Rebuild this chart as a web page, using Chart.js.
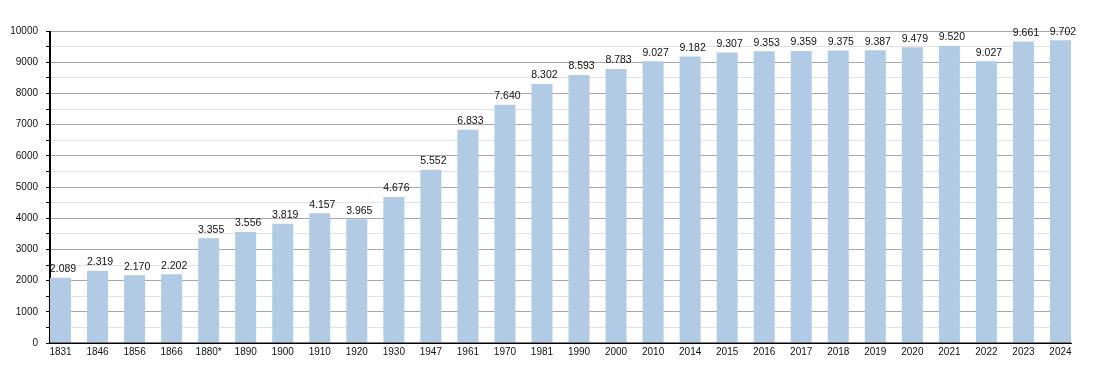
<!DOCTYPE html>
<html>
<head>
<meta charset="utf-8">
<script src="https://cdn.jsdelivr.net/npm/chart.js@4/dist/chart.umd.min.js"></script>
<style>
  html, body { margin: 0; padding: 0; background: #fff; }
  #wrap { width: 1100px; height: 373px; }
</style>
</head>
<body>
<div id="wrap"><canvas id="c" width="1100" height="373"></canvas></div>
<script>
const years = ["1831","1846","1856","1866","1880*","1890","1900","1910","1920","1930","1947","1961","1970","1981","1990","2000","2010","2014","2015","2016","2017","2018","2019","2020","2021","2022","2023","2024"];
const population = [2089,2319,2170,2202,3355,3556,3819,4157,3965,4676,5552,6833,7640,8302,8593,8783,9027,9182,9307,9353,9359,9375,9387,9479,9520,9027,9661,9702];
const yTicksMajor = [0,1000,2000,3000,4000,5000,6000,7000,8000,9000,10000];

const FONT = "'Liberation Sans', Arial, sans-serif";

function fmt(v) {
  return String(v).replace(/\B(?=(\d{3})+(?!\d))/g, ".");
}

const valueLabels = {
  id: 'valueLabels',
  afterDatasetsDraw(chart) {
    const ctx = chart.ctx;
    const area = chart.chartArea;
    // axis lines on top of bars
    ctx.save();
    ctx.strokeStyle = '#000';
    ctx.lineWidth = 1;
    ctx.beginPath();
    ctx.moveTo(Math.round(area.left) - 0.5, area.top);
    ctx.lineTo(Math.round(area.left) - 0.5, Math.round(area.bottom));
    ctx.lineTo(area.right, Math.round(area.bottom));
    ctx.stroke();
    ctx.restore();

    const meta = chart.getDatasetMeta(0);
    ctx.save();
    ctx.font = "10.5px " + FONT;
    ctx.fillStyle = "#111";
    ctx.textAlign = "center";
    ctx.textBaseline = "middle";
    meta.data.forEach((bar, i) => {
      ctx.fillText(fmt(population[i]), bar.x + 2.5, bar.y - 8.5);
    });
    ctx.restore();
  }
};

const half = 10.5 / 37;

new Chart(document.getElementById('c'), {
  type: 'bar',
  data: {
    datasets: [{
      data: population.map((v, i) => ({ x: i, y: v })),
      backgroundColor: '#b2cbe4',
      borderWidth: 0,
      categoryPercentage: 1,
      barPercentage: 21 / 37
    }]
  },
  options: {
    responsive: false,
    animation: false,
    devicePixelRatio: 1,
    layout: { padding: { left: 0, right: 29, top: 31, bottom: 0 } },
    plugins: { legend: { display: false }, tooltip: { enabled: false } },
    scales: {
      x: {
        type: 'linear',
        offset: false,
        min: -half,
        max: 27 + half,
        afterFit(s) { s.height = 30; },
        grid: { display: false, offset: false, drawTicks: false },
        border: { display: true, color: '#000', width: 1 },
        ticks: {
          stepSize: 1,
          autoSkip: false,
          includeBounds: false,
          maxRotation: 0,
          padding: 3,
          color: '#111',
          font: { family: FONT, size: 10 },
          callback: (v) => (Number.isInteger(v) && years[v] !== undefined) ? years[v] : ''
        }
      },
      y: {
        min: 0,
        max: 10000,
        afterFit(s) { s.width = 50; },
        border: { display: true, color: '#000', width: 1 },
        grid: {
          color: (c) => (c.tick && c.tick.value % 1000 === 0) ? '#a8a8a8' : '#e2e2e2',
          tickColor: '#000',
          tickLength: 4,
          drawTicks: true
        },
        ticks: {
          stepSize: 500,
          autoSkip: false,
          padding: 8,
          color: '#111',
          font: { family: FONT, size: 10 },
          callback: (v) => yTicksMajor.includes(v) ? String(v) : ''
        }
      }
    }
  },
  plugins: [valueLabels]
});
</script>
</body>
</html>
